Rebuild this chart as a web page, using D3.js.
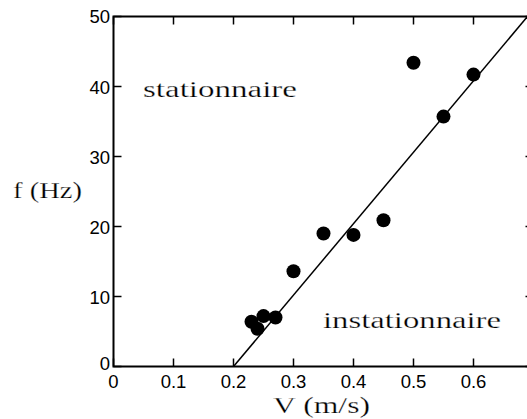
<!DOCTYPE html>
<html><head><meta charset="utf-8">
<script src="https://cdn.jsdelivr.net/npm/d3@7"></script>
<style>body{margin:0;background:#fff;} svg{display:block;}</style>
</head><body>
<svg id="c" width="527" height="419"></svg>
<script>
const vValues = [0.23, 0.24, 0.25, 0.27, 0.30, 0.35, 0.40, 0.45, 0.50, 0.55, 0.60];
const fValues = [6.4, 5.4, 7.2, 7.0, 13.6, 19.0, 18.8, 20.9, 43.4, 35.7, 41.7];
const fitLineV = [0.20, 0.69];
const fitLineF = [0, 50];
const xTicks = [0, 0.1, 0.2, 0.3, 0.4, 0.5, 0.6, 0.7];
const yTicks = [0, 10, 20, 30, 40, 50];

const svg = d3.select("#c");
const x = d3.scaleLinear().domain([0, 0.7]).range([113.5, 533.5]);
const y = d3.scaleLinear().domain([0, 50]).range([366.5, 16.5]);

const sans = "'Liberation Sans', Arial, Helvetica, sans-serif";
const serif = "'Liberation Serif', 'Times New Roman', serif";
const g = svg.append("g");
// frame
g.append("rect").attr("x", x(0)).attr("y", y(50)).attr("width", x(0.7)-x(0)).attr("height", y(0)-y(50))
  .attr("fill","none").attr("stroke","#000").attr("stroke-width",2);

const tl = 8;
xTicks.forEach(t => {
  g.append("line").attr("x1", x(t)).attr("x2", x(t)).attr("y1", y(0)).attr("y2", y(0)-tl).attr("stroke","#000").attr("stroke-width",1.5);
  g.append("line").attr("x1", x(t)).attr("x2", x(t)).attr("y1", y(50)).attr("y2", y(50)+tl).attr("stroke","#000").attr("stroke-width",1.5);
  if (t < 0.7) g.append("text").attr("x", x(t)).attr("y", 388).attr("text-anchor","middle")
    .attr("font-family", sans).attr("font-size",18.5).text(d3.format("")(t));
});
yTicks.forEach(t => {
  g.append("line").attr("x1", x(0)).attr("x2", x(0)+tl).attr("y1", y(t)).attr("y2", y(t)).attr("stroke","#000").attr("stroke-width",1.5);
  g.append("line").attr("x1", x(0.7)).attr("x2", x(0.7)-tl).attr("y1", y(t)).attr("y2", y(t)).attr("stroke","#000").attr("stroke-width",1.5);
  g.append("text").attr("x", 110).attr("y", y(t) + (t===0 ? 3.5 : (t===50 ? 6.5 : 7.5))).attr("text-anchor","end")
    .attr("font-family", sans).attr("font-size",18.5).text(t);
});

// fit line
g.append("line").attr("x1", x(fitLineV[0])).attr("y1", y(fitLineF[0])).attr("x2", x(fitLineV[1])).attr("y2", y(fitLineF[1]))
  .attr("stroke","#000").attr("stroke-width",1.5);

// points
g.selectAll("circle.pt").data(vValues.map((v,i)=>[v,fValues[i]])).enter().append("circle")
  .attr("cx", d=>x(d[0])).attr("cy", d=>y(d[1])).attr("r", 7).attr("fill","#000");

function lab(txt, xx, yy, len) {
  g.append("text").attr("x", xx).attr("y", yy).attr("font-family", serif).attr("font-size",24)
    .attr("fill","#000").attr("stroke","#fff").attr("stroke-width",0.25)
    .attr("textLength",len).attr("lengthAdjust","spacingAndGlyphs").text(txt);
}
lab("stationnaire", 143, 97, 154);
lab("instationnaire", 323, 328, 178);
lab("V (m/s)", 273, 413, 97);
lab("f (Hz)", 13, 198, 69);
</script>
</body></html>
